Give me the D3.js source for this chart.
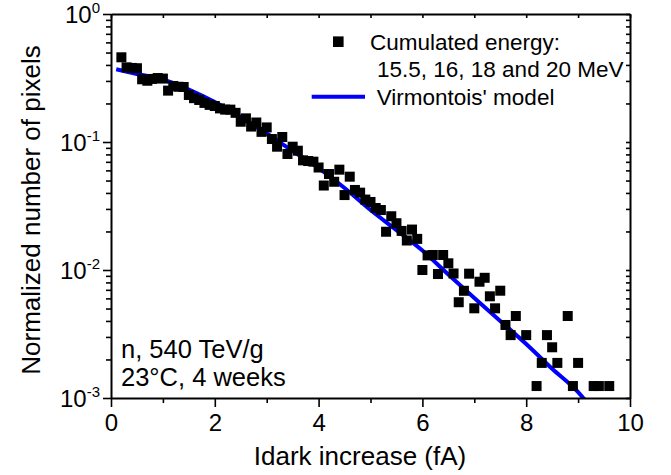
<!DOCTYPE html>
<html><head><meta charset="utf-8">
<script src="https://cdn.jsdelivr.net/npm/d3@7"></script>
<style>body{margin:0;background:#fff}svg{display:block}text{font-family:"Liberation Sans",Arial,sans-serif;fill:#000}</style>
</head><body>
<script>
// Data
const dataX = [0.2,0.3,0.4,0.5,0.6,0.7,0.8,0.9,1.0,1.1,1.2,1.3,1.4,1.5,1.6,1.7,1.8,1.9,2.0,2.1,2.2,2.3,2.4,2.5,2.6,2.7,2.8,2.9,3.0,3.1,3.2,3.3,3.4,3.5,3.6,3.7,3.8,3.9,4.0,4.1,4.2,4.3,4.4,4.5,4.6,4.7,4.8,4.9,5.0,5.1,5.2,5.3,5.4,5.5,5.6,5.7,5.8,5.9,6.0,6.1,6.2,6.3,6.4,6.5,6.6,6.7,6.8,6.9,7.0,7.1,7.2,7.3,7.4,7.5,7.6,7.7,7.8,8.0,8.2,8.3,8.4,8.5,8.6,8.8,8.9,9.0,9.3,9.4,9.6];
const dataY = [0.459,0.383,0.379,0.377,0.309,0.301,0.311,0.316,0.313,0.252,0.274,0.270,0.269,0.233,0.220,0.213,0.202,0.195,0.191,0.183,0.179,0.179,0.169,0.144,0.153,0.132,0.142,0.120,0.130,0.1055,0.0919,0.1094,0.0806,0.0919,0.0855,0.0719,0.0710,0.0702,0.0632,0.0457,0.0562,0.0489,0.0608,0.0385,0.0536,0.0422,0.0402,0.0355,0.0340,0.0305,0.0294,0.0199,0.0263,0.0232,0.0202,0.0170,0.0207,0.0175,0.0100,0.0130,0.0131,0.0093,0.0131,0.01128,0.00939,0.0056,0.00688,0.00936,0.00502,0.0081,0.00869,0.00623,0.00502,0.00689,0.00372,0.0031,0.00437,0.0031,0.00124,0.00188,0.0031,0.00249,0.00188,0.00437,0.00124,0.00188,0.00124,0.00124,0.00124];
const modelX = [0.1,0.5,1.0,1.5,2.0,2.5,3.0,3.5,4.0,4.5,5.0,5.5,6.0,6.5,7.0,7.5,8.0,8.5,9.0,9.1,9.2];
const modelY = [0.370,0.340,0.308,0.257,0.205,0.157,0.1165,0.0851,0.0626,0.0437,0.0294,0.0205,0.01419,0.00922,0.00604,0.00400,0.00264,0.00169,0.00111,0.00100,0.00090];
const xMajorTicks = [0,2,4,6,8,10];
const xMinorTicks = [1,3,5,7,9];
const yDecades = [1e-3,1e-2,1e-1,1];
const yDecadeExp = ["-3","-2","-1","0"];
const legendLabels = ["Cumulated energy:", "15.5, 16, 18 and 20 MeV", "Virmontois' model"];
const annotations = ["n, 540 TeV/g", "23°C, 4 weeks"];
const xTitle = "Idark increase (fA)";
const yTitle = "Normalized number of pixels";

const W = 671, H = 475;
const m = {left:111, right:41, top:14, bottom:77};
const x = d3.scaleLinear().domain([0,10]).range([m.left, W - m.right]);
const y = d3.scaleLog().domain([1e-3,1]).range([H - m.bottom, m.top]);

const svg = d3.select("body").append("svg").attr("width", W).attr("height", H);

const minorY = [];
yDecades.slice(0,3).forEach(d => { for (let k=2;k<=9;k++) minorY.push(d*k); });

svg.append("defs").append("clipPath").attr("id","clip")
  .append("rect").attr("x", m.left).attr("y", m.top)
  .attr("width", W - m.left - m.right).attr("height", H - m.top - m.bottom);

// model line
const pts = modelX.map((d,i)=>[d, modelY[i]]);
svg.append("path").attr("clip-path","url(#clip)")
  .attr("d", d3.line().x(d=>x(d[0])).y(d=>y(d[1])).curve(d3.curveMonotoneX)(pts))
  .attr("fill","none").attr("stroke","#0000ff").attr("stroke-width",4);

// squares
const S = 10;
svg.append("g").selectAll("rect").data(dataX.map((d,i)=>[d,dataY[i]])).join("rect")
  .attr("x", d=>x(d[0]) - S/2).attr("y", d=>y(d[1]) - S/2)
  .attr("width", S).attr("height", S).attr("fill","#000");

function styleAxis(g){
  g.selectAll("path.domain").attr("stroke","#000").attr("stroke-width",2);
  g.selectAll(".tick line").attr("stroke","#000").attr("stroke-width",1.6);
}

// bottom axis
const gb = svg.append("g").attr("transform",`translate(0,${H-m.bottom})`)
  .call(d3.axisBottom(x).tickValues(xMajorTicks).tickSize(9).tickSizeOuter(0).tickFormat(d3.format("d")));
gb.selectAll("text").attr("font-size",24).attr("y",16).attr("dy","0.71em");
styleAxis(gb);
const gbm = svg.append("g").attr("transform",`translate(0,${H-m.bottom})`)
  .call(d3.axisBottom(x).tickValues(xMinorTicks).tickSize(5).tickSizeOuter(0).tickFormat(""));
gbm.select("path.domain").remove(); styleAxis(gbm);

// top axis
const gt = svg.append("g").attr("transform",`translate(0,${m.top})`)
  .call(d3.axisTop(x).tickValues(d3.range(0,11)).tickSize(-4).tickSizeOuter(0).tickFormat(""));
styleAxis(gt);

// left axis
const gl = svg.append("g").attr("transform",`translate(${m.left},0)`)
  .call(d3.axisLeft(y).tickValues(yDecades).tickSize(8).tickSizeOuter(0).tickFormat(""));
styleAxis(gl);
gl.selectAll(".tick").each(function(d,i){
  const t = d3.select(this).append("text").attr("x",-11).attr("y",8.5)
    .attr("text-anchor","end").attr("font-size",24);
  t.append("tspan").text("10");
  t.append("tspan").attr("font-size",15).attr("dy",-10).text(yDecadeExp[i]);
});
const glm = svg.append("g").attr("transform",`translate(${m.left},0)`)
  .call(d3.axisLeft(y).tickValues(minorY).tickSize(5).tickSizeOuter(0).tickFormat(""));
glm.select("path.domain").remove(); styleAxis(glm);

// right axis
const gr = svg.append("g").attr("transform",`translate(${W-m.right},0)`)
  .call(d3.axisRight(y).tickValues(yDecades.concat(minorY)).tickSize(-4).tickSizeOuter(0).tickFormat(""));
styleAxis(gr);

// titles
svg.append("text").attr("x",360).attr("y",465).attr("text-anchor","middle")
  .attr("font-size",26).text(xTitle);
svg.append("text").attr("transform",`translate(39.5,${(m.top + H - m.bottom)/2 + 4}) rotate(-90)`)
  .attr("text-anchor","middle").attr("font-size",26).text(yTitle);

// legend
svg.append("rect").attr("x",338.3-5.3).attr("y",41.7-5.3).attr("width",10.6).attr("height",10.6).attr("fill","#000");
svg.append("text").attr("x",370).attr("y",50).attr("font-size",22.5).text(legendLabels[0]);
svg.append("text").attr("x",377).attr("y",76.5).attr("font-size",22.5).text(legendLabels[1]);
svg.append("line").attr("x1",311.7).attr("x2",365).attr("y1",96.7).attr("y2",96.7)
  .attr("stroke","#0000ff").attr("stroke-width",4);
svg.append("text").attr("x",376.7).attr("y",105).attr("font-size",22.5).text(legendLabels[2]);

// annotations
svg.append("text").attr("x",121).attr("y",358).attr("font-size",25.5).text(annotations[0]);
svg.append("text").attr("x",121).attr("y",386).attr("font-size",25.5).text(annotations[1]);
</script>
</body></html>
